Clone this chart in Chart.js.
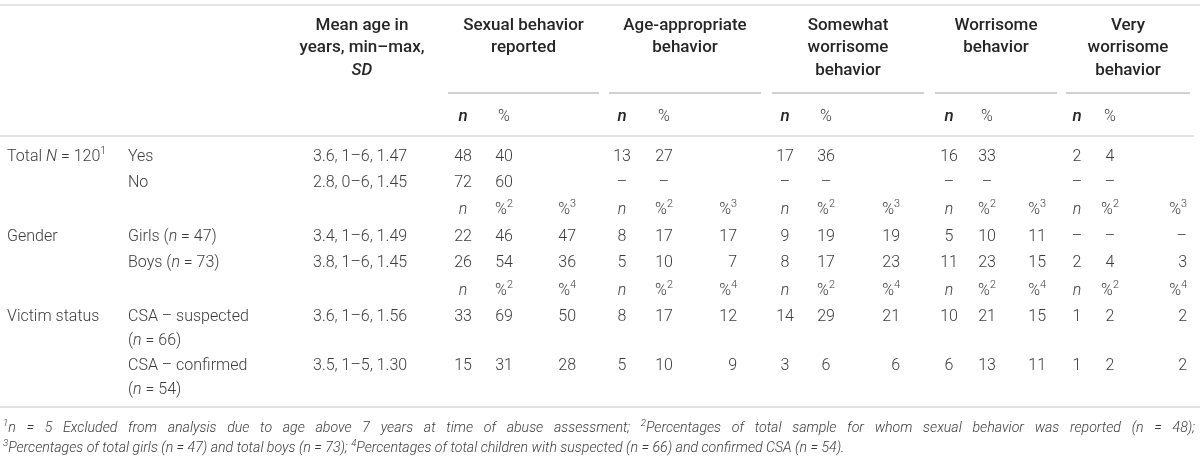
<!DOCTYPE html>
<html>
<head>
<meta charset="utf-8">
<script src="https://cdn.jsdelivr.net/npm/chart.js@4"></script>
<style>
  html, body { margin: 0; padding: 0; background: #fff; }
  canvas { display: block; }
</style>
</head>
<body>
<canvas id="tableChart" width="1200" height="463"></canvas>
<script>
// ---- data ----
// markup: *...* = italic, ^x = superscript character
const groupTitles = [
  ['Sexual behavior', 'reported'],
  ['Age-appropriate', 'behavior'],
  ['Somewhat', 'worrisome', 'behavior'],
  ['Worrisome', 'behavior'],
  ['Very', 'worrisome', 'behavior']
];
const meanAgeTitle = ['Mean age in', 'years, min–max,', '*SD*'];

const rowGroups = ['Total *N* = 120^1', 'Gender', 'Victim status'];
const rowLabels = ['Yes', 'No', 'Girls (*n* = 47)', 'Boys (*n* = 73)', 'CSA – suspected', 'CSA – confirmed'];
const rowLabels2 = ['', '', '', '', '(*n* = 66)', '(*n* = 54)'];
const meanAge = ['3.6, 1–6, 1.47', '2.8, 0–6, 1.45', '3.4, 1–6, 1.49', '3.8, 1–6, 1.45', '3.6, 1–6, 1.56', '3.5, 1–5, 1.30'];

// null = dash
const yesN    = [48, 13, 17, 16, 2];
const yesPct  = [40, 27, 36, 33, 4];
const noN     = [72, null, null, null, null];
const noPct   = [60, null, null, null, null];
const girlsN    = [22, 8, 9, 5, null];
const girlsPct2 = [46, 17, 19, 10, null];
const girlsPct3 = [47, 17, 19, 11, null];
const boysN    = [26, 5, 8, 11, 2];
const boysPct2 = [54, 10, 17, 23, 4];
const boysPct3 = [36, 7, 23, 15, 3];
const suspN    = [33, 8, 14, 10, 1];
const suspPct2 = [69, 17, 29, 21, 2];
const suspPct4 = [50, 12, 21, 15, 2];
const confN    = [15, 5, 3, 6, 1];
const confPct2 = [31, 10, 6, 13, 2];
const confPct4 = [28, 9, 6, 11, 2];

const subHeadA = ['*n*', '%^2', '%^3'];
const subHeadB = ['*n*', '%^2', '%^4'];

const footnotes = [
  '^1n = 5 Excluded from analysis due to age above 7 years at time of abuse assessment; ^2Percentages of total sample for whom sexual behavior was reported (n = 48);',
  '^3Percentages of total girls (n = 47) and total boys (n = 73); ^4Percentages of total children with suspected (n = 66) and confirmed CSA (n = 54).'
];

// ---- layout (scale units == pixels of the 1200 x 463 picture) ----
const xLabel = 7, xSub = 128, xAge = 313, xAgeHead = 362;
const xN = [463, 622, 785, 949, 1077];
const xPct = [504, 664, 826, 987, 1110];
const xPct3 = [576, 737, 900, 1046, 1187];
const groupRule = [[448, 599], [609, 761], [772, 924], [935, 1057], [1066, 1190]];
const headLineY = [26, 48, 71];
const yRule = 93, yNHead = 117, ySep = 136, yTop = 5, yBottom = 407;
const rowY = [157, 183, 237, 263, 317, 366];
const row2Y = [0, 0, 0, 0, 341, 390];
const subY = [210, 291];
const footY = [428, 448];
const footLeft = 3, footRight = 1195, footLastEnd = 845;

const FONT = 'Roboto, "Liberation Sans", sans-serif';
const bodyColor = '#3c3c3c';
const headColor = '#262626';

function parseRich(str) {
  const segs = [];
  let italic = false, buf = '';
  for (let i = 0; i < str.length; i++) {
    const c = str[i];
    if (c === '*') {
      if (buf) segs.push({ t: buf, i: italic });
      buf = ''; italic = !italic;
    } else if (c === '^') {
      if (buf) segs.push({ t: buf, i: italic });
      buf = '';
      segs.push({ t: str[i + 1], i: italic, sup: true });
      i++;
    } else buf += c;
  }
  if (buf) segs.push({ t: buf, i: italic });
  return segs;
}

function fontFor(seg, st) {
  const size = seg.sup ? st.size * 0.68 : st.size;
  return ((st.italic || seg.i) ? 'italic ' : '') + st.weight + ' ' + size + 'px ' + FONT;
}

function richWidth(ctx, str, st) {
  let w = 0;
  parseRich(str).forEach(s => { ctx.font = fontFor(s, st); w += ctx.measureText(s.t).width; });
  return w;
}

// extra = additional px for every space (used to justify a line)
function drawRich(ctx, str, x, y, align, st, extra) {
  extra = extra || 0;
  const segs = parseRich(str);
  const w = richWidth(ctx, str, st);
  let cx = align === 'center' ? x - w / 2 : align === 'right' ? x - w : x;
  ctx.fillStyle = st.color;
  ctx.textBaseline = 'middle';
  ctx.textAlign = 'left';
  segs.forEach(s => {
    ctx.font = fontFor(s, st);
    const yy = s.sup ? y - st.size * 0.33 : y;
    if (!extra) {
      ctx.fillText(s.t, cx, yy);
      cx += ctx.measureText(s.t).width;
      return;
    }
    const words = s.t.split(' ');
    words.forEach((wd, k) => {
      if (wd) { ctx.fillText(wd, cx, yy); cx += ctx.measureText(wd).width; }
      if (k < words.length - 1) cx += ctx.measureText(' ').width + extra;
    });
  });
}

const cell = v => (v === null ? '–' : String(v));

const tablePlugin = {
  id: 'tablePlugin',
  afterDraw(chart) {
    const ctx = chart.ctx;
    const sx = chart.scales.x, sy = chart.scales.y;
    const X = v => sx.getPixelForValue(v);
    const Y = v => sy.getPixelForValue(v);
    const body = { size: 16, weight: 300, italic: false, color: bodyColor };
    const head = { size: 17, weight: 500, italic: false, color: headColor };

    ctx.save();
    function hline(x0, x1, y, color, w) {
      ctx.strokeStyle = color; ctx.lineWidth = w;
      ctx.beginPath(); ctx.moveTo(X(x0), Y(y)); ctx.lineTo(X(x1), Y(y)); ctx.stroke();
    }
    hline(0, 1200, yTop, '#e3e3e3', 2);
    hline(0, 1194, ySep, '#e3e3e3', 2);
    hline(0, 1200, yBottom, '#e3e3e3', 2);
    groupRule.forEach(r => hline(r[0], r[1], yRule, '#c2c2c2', 1.5));

    // header
    meanAgeTitle.forEach((t, k) => drawRich(ctx, t, X(xAgeHead), Y(headLineY[k]), 'center', head));
    groupTitles.forEach((lines, g) => {
      const cxg = (groupRule[g][0] + groupRule[g][1]) / 2;
      lines.forEach((t, k) => drawRich(ctx, t, X(cxg), Y(headLineY[k]), 'center', head));
      drawRich(ctx, '*n*', X(xN[g]), Y(yNHead), 'center', head);
      drawRich(ctx, '%', X(xPct[g]), Y(yNHead), 'center', body);
    });

    // row labels
    drawRich(ctx, rowGroups[0], X(xLabel), Y(rowY[0]), 'left', body);
    drawRich(ctx, rowGroups[1], X(xLabel), Y(rowY[2]), 'left', body);
    drawRich(ctx, rowGroups[2], X(xLabel), Y(rowY[4]), 'left', body);
    rowLabels.forEach((t, r) => {
      drawRich(ctx, t, X(xSub), Y(rowY[r]), 'left', body);
      if (rowLabels2[r]) drawRich(ctx, rowLabels2[r], X(xSub), Y(row2Y[r]), 'left', body);
      drawRich(ctx, meanAge[r], X(xAge), Y(rowY[r]), 'left', body);
    });

    // sub headers
    [subHeadA, subHeadB].forEach((sh, k) => {
      for (let g = 0; g < 5; g++) {
        drawRich(ctx, sh[0], X(xN[g]), Y(subY[k]), 'center', body);
        drawRich(ctx, sh[1], X(xPct[g]), Y(subY[k]), 'center', body);
        drawRich(ctx, sh[2], X(xPct3[g]), Y(subY[k]), 'right', body);
      }
    });

    // values
    const twoCol = [[yesN, yesPct], [noN, noPct]];
    twoCol.forEach((d, r) => {
      for (let g = 0; g < 5; g++) {
        drawRich(ctx, cell(d[0][g]), X(xN[g]), Y(rowY[r]), 'center', body);
        drawRich(ctx, cell(d[1][g]), X(xPct[g]), Y(rowY[r]), 'center', body);
      }
    });
    const threeCol = [
      [girlsN, girlsPct2, girlsPct3], [boysN, boysPct2, boysPct3],
      [suspN, suspPct2, suspPct4], [confN, confPct2, confPct4]
    ];
    threeCol.forEach((d, k) => {
      const r = k + 2;
      for (let g = 0; g < 5; g++) {
        drawRich(ctx, cell(d[0][g]), X(xN[g]), Y(rowY[r]), 'center', body);
        drawRich(ctx, cell(d[1][g]), X(xPct[g]), Y(rowY[r]), 'center', body);
        drawRich(ctx, cell(d[2][g]), X(xPct3[g]), Y(rowY[r]), 'right', body);
      }
    });

    // footnotes: justified paragraph, last line at natural width
    const foot = { size: 14, weight: 300, italic: true, color: bodyColor };
    foot.size = 14 * (footLastEnd - footLeft) / richWidth(ctx, footnotes[1], foot);
    const w1 = richWidth(ctx, footnotes[0], foot);
    const spaces = footnotes[0].split(' ').length - 1;
    const extra = Math.max(0, (footRight - footLeft - w1) / spaces);
    drawRich(ctx, footnotes[0], X(footLeft), Y(footY[0]), 'left', foot, extra);
    drawRich(ctx, footnotes[1], X(footLeft), Y(footY[1]), 'left', foot);
    ctx.restore();
  }
};

new Chart(document.getElementById('tableChart'), {
  type: 'scatter',
  data: { datasets: [{ data: [], pointRadius: 0 }] },
  options: {
    responsive: false,
    animation: false,
    layout: { padding: 0 },
    plugins: { legend: { display: false }, tooltip: { enabled: false } },
    scales: {
      x: { type: 'linear', min: 0, max: 1200, display: false },
      y: { type: 'linear', min: 0, max: 463, reverse: true, display: false }
    }
  },
  plugins: [tablePlugin]
});
</script>
</body>
</html>
